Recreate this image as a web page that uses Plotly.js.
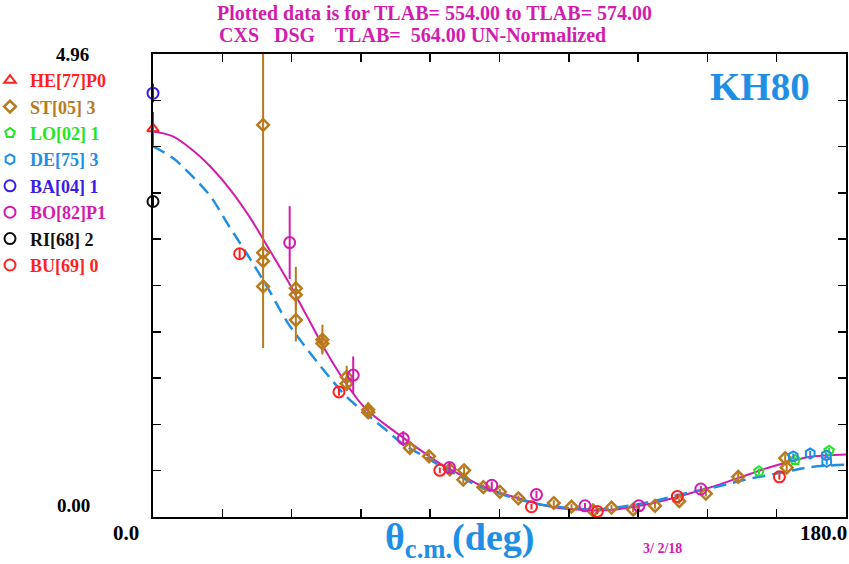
<!DOCTYPE html>
<html>
<head>
<meta charset="utf-8">
<script src="https://cdn.plot.ly/plotly-3.0.1.min.js"></script>
<style>html,body{margin:0;padding:0;background:#fff;}#chart{width:849px;height:564px;}</style>
</head>
<body>
<div id="chart"></div>
<script>
// ---- data (angles in degrees, cross sections) ----
const curveAngles = [0,5,10,15,20,25,30,35,40,45,50,55,60,65,70,75,80,85,90,95,100,105,110,115,120,125,130,135,140,145,150,155,160,165,170,175,180];
const curveSolid  = [4.13,4.08,3.94,3.75,3.51,3.22,2.88,2.53,2.15,1.77,1.44,1.17,1.00,0.85,0.70,0.56,0.45,0.34,0.26,0.20,0.14,0.10,0.08,0.07,0.08,0.11,0.15,0.20,0.26,0.32,0.39,0.46,0.53,0.59,0.64,0.66,0.67];
const curveDashed = [3.97,3.85,3.66,3.43,3.10,2.78,2.44,2.08,1.80,1.54,1.30,1.12,0.95,0.78,0.66,0.54,0.43,0.32,0.25,0.19,0.14,0.11,0.09,0.08,0.10,0.13,0.17,0.22,0.27,0.31,0.36,0.41,0.45,0.49,0.53,0.55,0.56];

const heX = [0],   heY = [4.16], heE = [0.18];
const stX = [28.6,28.6,28.6,28.6,37.1,37.1,37.1,44.0,44.0,50.3,50.3,55.9,55.9,66.7,71.7,77.1,80.8,80.6,85.8,90.1,94.9,104.1,108.7,114.3,119.1,124.7,130.4,136.7,143.6,152.0,164.6,164.2];
const stY = [4.20,2.83,2.74,2.47,2.45,2.38,2.11,1.90,1.86,1.50,1.43,1.15,1.12,0.74,0.65,0.51,0.50,0.40,0.32,0.27,0.20,0.15,0.11,0.07,0.10,0.08,0.12,0.17,0.25,0.43,0.53,0.63];
const stE = [2.39,0.05,0.05,0.05,0.23,0.05,0.23,0.16,0.10,0.12,0.08,0.08,0.05,0.05,0.04,0.04,0.04,0.04,0.03,0.03,0.03,0.03,0.03,0.03,0.03,0.03,0.03,0.03,0.03,0.04,0.04,0.04];
const loX = [157.4,166.8,175.6], loY = [0.49,0.61,0.71], loE = [0.03,0.03,0.03];
const deX = [166.3,170.7,174.9,175.0], deY = [0.65,0.68,0.66,0.59], deE = [0.03,0.03,0.03,0.03];
const baX = [0],   baY = [4.54], baE = [0.10];
const boX = [35.5,52.0,65.0,77.0,88.0,99.6,112.2,126.2,142.3];
const boY = [2.94,1.52,0.84,0.53,0.34,0.24,0.12,0.12,0.30];
const boE = [0.39,0.20,0.08,0.05,0.04,0.04,0.03,0.03,0.03];
const riX = [0],   riY = [3.38], riE = [0.05];
const buX = [22.5,48.3,74.5,98.3,115.4,136.2,162.7], buY = [2.82,1.34,0.50,0.11,0.06,0.22,0.43], buE = [0.05,0.04,0.03,0.03,0.03,0.03,0.03];

const labels = ['HE[77]P0','ST[05] 3','LO[02] 1','DE[75] 3','BA[04] 1','BO[82]P1','RI[68] 2','BU[69] 0'];
const colors = ['#ff1f1f','#b97a1f','#22e622','#1f8fe6','#3a1ee6','#d21cad','#111111','#ff1f1f'];
const symbols = ['triangle-up-open','diamond-open','pentagon-open','hexagon-open','circle-open','circle-open','circle-open','circle-open'];
const sizes = [10, 9, 10, 10, 11, 11, 11, 11];
const sets = [[heX,heY,heE],[stX,stY,stE],[loX,loY,loE],[deX,deY,deE],[baX,baY,baE],[boX,boY,boE],[riX,riY,riE],[buX,buY,buE]];

const SERIF = 'Liberation Serif, Times New Roman, serif';
const BLUE = '#1f8fe6', MAG = '#d21cad';

const traces = [];
traces.push({x: curveAngles, y: curveSolid, mode: 'lines', line: {color: MAG, width: 2, shape: 'spline'}, showlegend: false, hoverinfo: 'skip'});
traces.push({x: curveAngles, y: curveDashed, mode: 'lines', line: {color: BLUE, width: 2.5, dash: '13px,7px', shape: 'spline'}, showlegend: false, hoverinfo: 'skip'});
sets.forEach((s, i) => {
  traces.push({
    x: s[0], y: s[1], mode: 'markers', type: 'scatter',
    name: '<span style="color:' + colors[i] + '">' + labels[i] + '</span>',
    marker: {symbol: symbols[i], size: sizes[i], color: colors[i], line: {width: i === 1 ? 2.5 : 2, color: colors[i]}},
    error_y: {type: 'data', array: s[2], visible: true, color: colors[i], thickness: 2, width: 0},
    cliponaxis: (s[0][0] === 0 && s[0].length === 1) ? false : true
  });
});

const layout = {
  width: 849, height: 564,
  margin: {l: 153, r: 3, t: 54, b: 47, autoexpand: false},
  paper_bgcolor: '#fff', plot_bgcolor: '#fff',
  font: {family: SERIF, color: '#000'},
  title: {
    text: 'Plotted data is for TLAB= 554.00 to TLAB= 574.00',
    x: 217/849, xanchor: 'left', y: 1 - 13/564, yanchor: 'middle', xref: 'container', yref: 'container',
    font: {family: SERIF, size: 20, color: MAG, weight: 'bold'}
  },
  xaxis: {range: [0, 180], tick0: 0, dtick: 18, ticks: 'inside', ticklen: 8, tickwidth: 1.5, tickcolor: '#000',
          showline: true, linecolor: '#000', linewidth: 2, mirror: 'ticks', showgrid: false, zeroline: false,
          showticklabels: false},
  yaxis: {range: [0, 4.96], tick0: 0, dtick: 0.496, ticks: 'inside', ticklen: 8, tickwidth: 1.5, tickcolor: '#000',
          showline: true, linecolor: '#000', linewidth: 2, mirror: 'ticks', showgrid: false, zeroline: false,
          showticklabels: false},
  showlegend: true,
  legend: {x: -163/693, xanchor: 'left', y: (517-62)/463, yanchor: 'top', bgcolor: 'rgba(0,0,0,0)',
           font: {family: SERIF, size: 18, weight: 'bold'}, itemwidth: 30, itemclick: false, tracegroupgap: 0},
  annotations: [
    {text: 'CXS   DSG    TLAB=  564.00 UN-Normalized', xref: 'paper', yref: 'paper', x: (217-153)/693, y: (517-35)/463,
     xanchor: 'left', yanchor: 'middle', showarrow: false, font: {family: SERIF, size: 20, color: MAG, weight: 'bold'}},
    {text: 'KH80', xref: 'paper', yref: 'paper', x: (760-153)/693, y: (517-87)/463, xanchor: 'center', yanchor: 'middle',
     showarrow: false, font: {family: SERIF, size: 39, color: BLUE, weight: 'bold'}},
    {text: '4.96', xref: 'paper', yref: 'paper', x: (91-153)/693, y: (517-54)/463, xanchor: 'right', yanchor: 'middle',
     showarrow: false, font: {family: SERIF, size: 19, color: '#000', weight: 'bold'}},
    {text: '0.00', xref: 'paper', yref: 'paper', x: (92-153)/693, y: (517-505)/463, xanchor: 'right', yanchor: 'middle',
     showarrow: false, font: {family: SERIF, size: 19, color: '#000', weight: 'bold'}},
    {text: '0.0', xref: 'paper', yref: 'paper', x: (141-153)/693, y: (517-533)/463, xanchor: 'right', yanchor: 'middle',
     showarrow: false, font: {family: SERIF, size: 21, color: '#000', weight: 'bold'}},
    {text: '180.0', xref: 'paper', yref: 'paper', x: (849-153)/693, y: (517-533)/463, xanchor: 'right', yanchor: 'middle',
     showarrow: false, font: {family: SERIF, size: 21, color: '#000', weight: 'bold'}},
    {text: 'θ<sub>c.m.</sub>(deg)', xref: 'paper', yref: 'paper', x: (459-153)/693, y: (517-540)/463, xanchor: 'center', yanchor: 'middle',
     showarrow: false, font: {family: SERIF, size: 38, color: BLUE, weight: 'bold'}},
    {text: '3/ 2/18', xref: 'paper', yref: 'paper', x: (662-153)/693, y: (517-548)/463, xanchor: 'center', yanchor: 'middle',
     showarrow: false, font: {family: SERIF, size: 14, color: MAG, weight: 'bold'}}
  ]
};

Plotly.newPlot('chart', traces, layout, {displayModeBar: false, staticPlot: true});
</script>
</body>
</html>
